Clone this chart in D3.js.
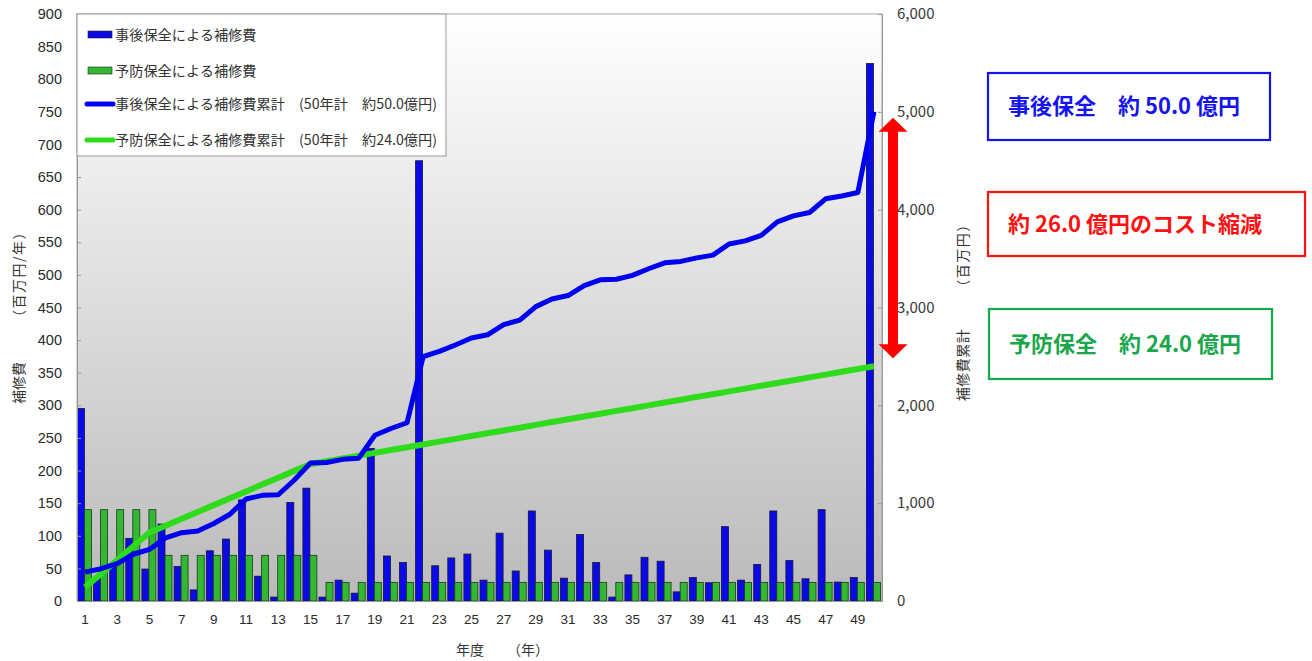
<!DOCTYPE html>
<html lang="ja">
<head>
<meta charset="utf-8">
<script src="https://cdn.jsdelivr.net/npm/d3@7"></script>
<style>
  body { margin: 0; background: #fff; }
  svg { display: block; }
</style>
</head>
<body>
<svg id="chart" width="1312" height="661"></svg>
<script>
// ---- data (百万円) ----
const years = d3.range(1, 51);
const tickYears = [1,3,5,7,9,11,13,15,17,19,21,23,25,27,29,31,33,35,37,39,41,43,45,47,49];

// 事後保全による補修費（年）
const correctiveCost = [295,35,52,96,49,118,53,17,77,95,155,38,6,151,173,6,32,12,234,69,
                        59,675,54,66,72,32,104,46,138,78,35,102,59,6,40,67,61,14,36,28,
                        114,32,56,138,62,34,140,29,36,824];
// 予防保全による補修費（年）
const preventiveCost = [140,140,140,140,140,70,70,70,70,70,70,70,70,70,70,28.6,28.6,28.6,28.6,28.6,
                        28.6,28.6,28.6,28.6,28.6,28.6,28.6,28.6,28.6,28.6,28.6,28.6,28.6,28.6,28.6,28.6,28.6,28.6,28.6,28.6,
                        28.6,28.6,28.6,28.6,28.6,28.6,28.6,28.6,28.6,28.6];
// 累計
const correctiveTotal = [295,330,382,478,527,645,698,715,792,887,1042,1080,1086,1237,1410,1416,1448,1460,1694,1763,
                         1822,2497,2551,2617,2689,2721,2825,2871,3009,3087,3122,3224,3283,3289,3329,3396,3457,3471,3507,3535,
                         3649,3681,3737,3875,3937,3971,4111,4140,4176,5000];
const preventiveTotal = [140,280,420,560,700,770,840,910,980,1050,1120,1190,1260,1330,1400,1429,1457,1486,1514,1543,
                         1571,1600,1629,1657,1686,1714,1743,1771,1800,1829,1857,1886,1914,1943,1971,2000,2029,2057,2086,2114,
                         2143,2171,2200,2229,2257,2286,2314,2343,2371,2400];

const leftTicks = d3.range(0, 901, 50);
const rightTicks = [0,1000,2000,3000,4000,5000,6000];

const legendLabels = [
  "事後保全による補修費",
  "予防保全による補修費",
  "事後保全による補修費累計　(50年計　約50.0億円)",
  "予防保全による補修費累計　(50年計　約24.0億円)"
];
const summaryTexts = ["事後保全　約 50.0 億円", "約 26.0 億円のコスト縮減", "予防保全　約 24.0 億円"];

// ---- layout ----
const plot = { left: 77, right: 882, top: 14, bottom: 601 };
const BLUE = "#0a0ae6", GREEN_BAR = "#33b833", GREEN_LINE = "#2edc1c";
const svg = d3.select("#chart");

const x = d3.scaleBand().domain(years).range([plot.left, plot.right]).padding(0);
const x1 = d3.scaleBand().domain(["c", "p"]).range([0.5, x.bandwidth() - 1.6]).padding(0);
const yL = d3.scaleLinear().domain([0, 900]).range([plot.bottom, plot.top]);
const yR = d3.scaleLinear().domain([0, 6000]).range([plot.bottom, plot.top]);

// plot background gradient
const defs = svg.append("defs");
const grad = defs.append("linearGradient").attr("id", "bg").attr("x1", 0).attr("y1", 0).attr("x2", 0).attr("y2", 1);
grad.append("stop").attr("offset", "0%").attr("stop-color", "#ffffff");
grad.append("stop").attr("offset", "100%").attr("stop-color", "#bababa");

svg.append("rect")
  .attr("x", plot.left).attr("y", plot.top)
  .attr("width", plot.right - plot.left).attr("height", plot.bottom - plot.top)
  .attr("fill", "url(#bg)").attr("stroke", "#a8a8a8").attr("stroke-width", 1);

// bars
const barG = svg.append("g");
barG.selectAll("rect.c").data(correctiveCost).join("rect")
  .attr("x", (d, i) => x(years[i]) + x1("c"))
  .attr("y", d => yL(d))
  .attr("width", x1.bandwidth())
  .attr("height", d => yL(0) - yL(d))
  .attr("fill", BLUE).attr("stroke", "#14143a").attr("stroke-width", 0.8);
barG.selectAll("rect.p").data(preventiveCost).join("rect")
  .attr("x", (d, i) => x(years[i]) + x1("p"))
  .attr("y", d => yL(d))
  .attr("width", x1.bandwidth())
  .attr("height", d => yL(0) - yL(d))
  .attr("fill", GREEN_BAR).attr("stroke", "#1c3a1c").attr("stroke-width", 0.8);

// cumulative lines
const line = d3.line()
  .x((d, i) => x(years[i]) + x.bandwidth() / 2)
  .y(d => yR(d));
svg.append("path").datum(preventiveTotal).attr("d", line)
  .attr("fill", "none").attr("stroke", GREEN_LINE).attr("stroke-width", 6).attr("stroke-linejoin", "round");
svg.append("path").datum(correctiveTotal).attr("d", line)
  .attr("fill", "none").attr("stroke", "#0000f0").attr("stroke-width", 5).attr("stroke-linejoin", "round");

// axes
const tickFont = "'Liberation Sans', Arial, sans-serif";
const cjk = "'Noto Sans CJK JP', sans-serif";
const gL = svg.append("g").attr("transform", `translate(${plot.left},0)`)
  .call(d3.axisLeft(yL).tickValues(leftTicks).tickSize(-4).tickPadding(15));
gL.selectAll("text").attr("font-family", tickFont).attr("font-size", 14.5).attr("fill", "#2a2a2a");

const gR = svg.append("g").attr("transform", `translate(${plot.right},0)`)
  .call(d3.axisRight(yR).tickValues(rightTicks).tickSize(-4).tickPadding(15).tickFormat(d3.format(",")));
gR.selectAll("text").attr("font-family", cjk).attr("font-size", 15).attr("fill", "#3a3a3a");

const gB = svg.append("g").attr("transform", `translate(0,${plot.bottom})`)
  .call(d3.axisBottom(x).tickValues(tickYears).tickSize(0).tickPadding(13));
gB.selectAll("text").attr("font-family", tickFont).attr("font-size", 13.5).attr("fill", "#2a2a2a");

[gL, gR, gB].forEach(g => {
  g.select(".domain").attr("stroke", "#999");
  g.selectAll(".tick line").attr("stroke", "#999");
});

// axis titles (rotated, two parts each)
function vTitle(cx, cy, txt, spacing) {
  svg.append("text")
    .attr("transform", `translate(${cx},${cy}) rotate(-90)`)
    .attr("text-anchor", "middle")
    .attr("font-family", cjk).attr("font-size", 14).attr("fill", "#333")
    .attr("letter-spacing", spacing)
    .text(txt);
}
vTitle(24, 383, "補修費", 0);
vTitle(24, 274, "（百万円/年）", 1.5);
vTitle(968, 365, "補修費累計", 0.5);
vTitle(968, 255, "（百万円）", 1.5);

svg.append("text")
  .attr("x", 470).attr("y", 655)
  .attr("text-anchor", "middle")
  .attr("font-family", cjk).attr("font-size", 14).attr("fill", "#333")
  .text("年度");
svg.append("text")
  .attr("x", 528).attr("y", 655)
  .attr("text-anchor", "middle")
  .attr("font-family", cjk).attr("font-size", 14).attr("fill", "#333")
  .text("（年）");

// legend
const lg = svg.append("g");
lg.append("rect").attr("x", plot.left).attr("y", plot.top).attr("width", 369).attr("height", 142)
  .attr("fill", "#fff").attr("stroke", "#999").attr("stroke-width", 1);
const legendRows = [34.5, 70.5, 104, 140];
const legendKinds = [
  { type: "bar", color: BLUE },
  { type: "bar", color: GREEN_BAR },
  { type: "line", color: "#0000f0" },
  { type: "line", color: GREEN_LINE }
];
legendKinds.forEach((k, i) => {
  const cy = legendRows[i];
  if (k.type === "bar") {
    lg.append("rect").attr("x", 88).attr("y", cy - 3.5).attr("width", 24).attr("height", 7)
      .attr("fill", k.color).attr("stroke", "#222").attr("stroke-width", 0.6);
  } else {
    lg.append("line").attr("x1", 87).attr("x2", 113).attr("y1", cy).attr("y2", cy)
      .attr("stroke", k.color).attr("stroke-width", 5).attr("stroke-linecap", "round");
  }
  lg.append("text").attr("x", 115).attr("y", cy).attr("dy", "0.36em")
    .attr("font-family", cjk).attr("font-size", 14.2).attr("fill", "#333")
    .text(legendLabels[i]);
});

// red double arrow between the two totals
const arrowX = 893;
const topTip = yR(correctiveTotal[49]) + 6;
const botTip = yR(preventiveTotal[49]) - 8;
const headH = 14, headW = 14.5, shaftW = 5;
const arrowPts = [
  [arrowX, topTip], [arrowX + headW, topTip + headH], [arrowX + shaftW, topTip + headH],
  [arrowX + shaftW, botTip - headH], [arrowX + headW, botTip - headH], [arrowX, botTip],
  [arrowX - headW, botTip - headH], [arrowX - shaftW, botTip - headH],
  [arrowX - shaftW, topTip + headH], [arrowX - headW, topTip + headH]
];
svg.append("path").attr("d", d3.line()(arrowPts) + "Z").attr("fill", "#ff0000");

// summary boxes
const boxes = [
  { x: 988, y: 73, w: 282, h: 67, color: "#1414ee", text: summaryTexts[0] },
  { x: 988, y: 192, w: 317, h: 64, color: "#ff1010", text: summaryTexts[1] },
  { x: 989, y: 309, w: 283, h: 70, color: "#1aa64a", text: summaryTexts[2] }
];
boxes.forEach(b => {
  svg.append("rect").attr("x", b.x).attr("y", b.y).attr("width", b.w).attr("height", b.h)
    .attr("fill", "#fff").attr("stroke", b.color).attr("stroke-width", 2.2);
  svg.append("text").attr("x", b.x + 20).attr("y", b.y + b.h / 2).attr("dy", "0.36em")
    .attr("font-family", cjk).attr("font-weight", "bold").attr("font-size", 22)
    .attr("fill", b.color).text(b.text);
});
</script>
</body>
</html>
